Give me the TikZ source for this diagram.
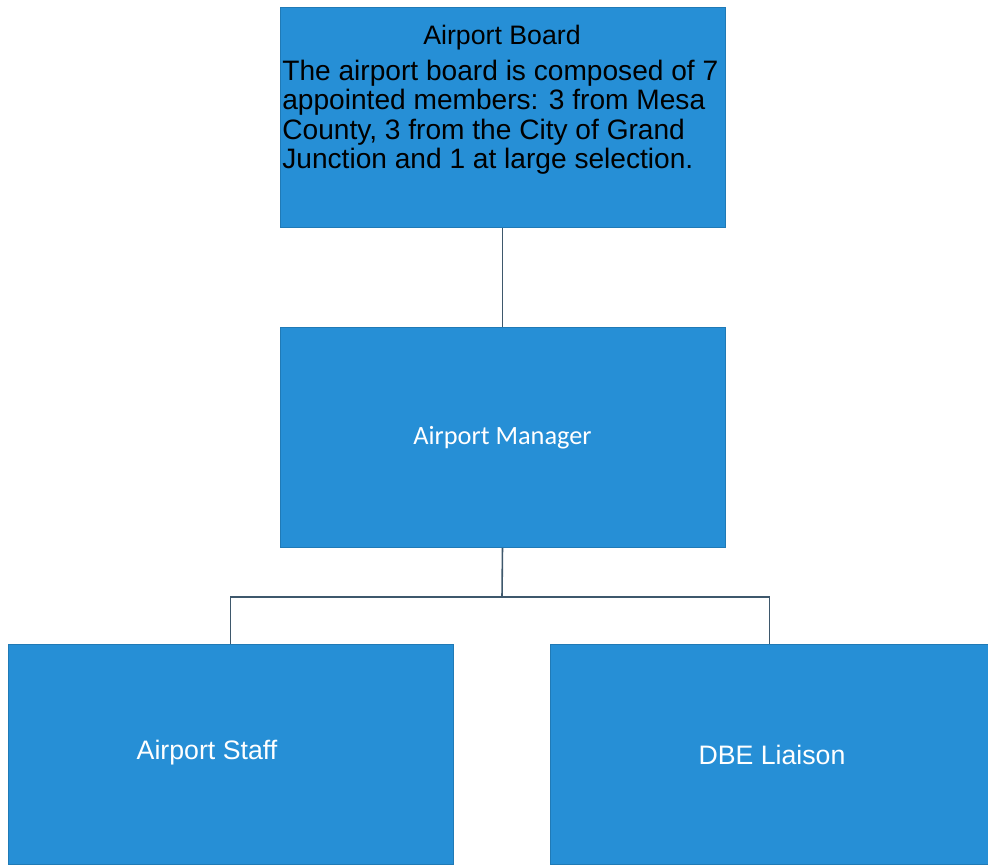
\documentclass[tikz,border=0pt]{standalone}
\usepackage{fontspec}
\setmainfont{Liberation Sans}
\newfontfamily\calibri{Carlito}
\usepackage{xcolor}
\usetikzlibrary{positioning}
\definecolor{boxblue}{RGB}{38,143,214}
\definecolor{linegray}{RGB}{62,88,108}

\begin{document}
\begin{tikzpicture}[x=0.02cm,y=-0.02cm,
box/.style={draw=boxblue!85!black,fill=boxblue,inner sep=0pt,minimum width=8.9cm,minimum height=4.4cm},
link/.style={linegray,line width=0.9pt},
wlabel/.style={text=white,font=\fontsize{15.2}{17}\selectfont}]
\useasboundingbox (0,0) rectangle (988,867);
\node[box] (board) at (502.5,117.5) {};
\node[box] (mgr) at (502.5,437.5) {};
\node[box] (staff) at (230.5,754.5) {};
\node[box,minimum width=8.76cm] (dbe) at (769.5,754.5) {};
\node[font=\fontsize{15.2}{17}\selectfont] (boardtitle) at (502,38) {Airport Board};
\node[anchor=north west,inner sep=0pt,align=left,font=\fontsize{16}{16.6}\selectfont] (boardtext) at (282,60)
{The airport board is composed of 7\\appointed members: 3 from Mesa\\County, 3 from the City of Grand\\Junction and 1 at large selection.};
\node[wlabel,font=\calibri\fontsize{15}{17}\selectfont] (mgrlabel) at (mgr) {Airport Manager};
\node[wlabel] (stafflabel) at (207,753) {Airport Staff};
\node[wlabel] (dbelabel) at (772,755) {DBE Liaison};
\coordinate (split) at (502,597);
\draw[link] (board.south) -- (mgr.north);
\draw[link] (mgr.south) -- (split);
\draw[link] (staff.north) |- (split) -| (dbe.north);
\end{tikzpicture}
\end{document}
